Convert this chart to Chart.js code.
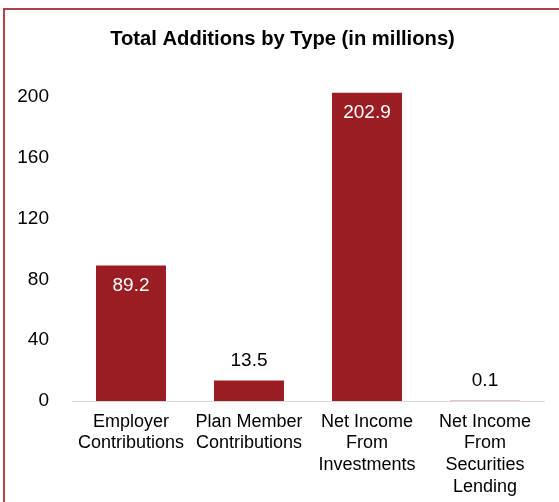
<!DOCTYPE html>
<html>
<head>
<meta charset="utf-8">
<script src="https://cdn.jsdelivr.net/npm/chart.js@4/dist/chart.umd.min.js"></script>
<style>
  html, body { margin:0; padding:0; width:559px; height:502px; overflow:hidden; background:#fff; }
  #frame { position:absolute; left:3px; top:8px; width:700px; height:700px;
           border-left:2px solid #b0434a; border-top:2px solid #b0434a; box-sizing:border-box; }
  #c { position:absolute; left:3px; top:0; }
</style>
</head>
<body>
<div id="frame"></div>
<canvas id="c" width="559" height="502"></canvas>
<script>
const titleText = "Total Additions by Type (in millions)";
const categories = [
  ["Employer", "Contributions"],
  ["Plan Member", "Contributions"],
  ["Net Income", "From", "Investments"],
  ["Net Income", "From", "Securities", "Lending"]
];
const values = [89.2, 13.5, 202.9, 0.1];
const valueLabels = ["89.2", "13.5", "202.9", "0.1"];
const yTicks = [0, 40, 80, 120, 160, 200];

const FONT = "'Liberation Sans', Arial, sans-serif";
const barColor = "#9b1d24";

const titlePlugin = {
  id: 'centeredTitle',
  afterDraw(chart) {
    const ctx = chart.ctx;
    ctx.save();
    ctx.font = "bold 20.2px " + FONT;
    ctx.fillStyle = '#000';
    ctx.textAlign = 'center';
    ctx.textBaseline = 'middle';
    ctx.fillText(titleText, chart.width / 2, 39);
    ctx.restore();
  }
};

const dataLabelPlugin = {
  id: 'dataLabels',
  afterDatasetsDraw(chart) {
    const ctx = chart.ctx;
    const meta = chart.getDatasetMeta(0);
    ctx.save();
    ctx.font = "19px " + FONT;
    ctx.textAlign = 'center';
    ctx.textBaseline = 'middle';
    meta.data.forEach((el, i) => {
      const h = el.base - el.y;
      if (h > 40) {
        ctx.fillStyle = '#ffffff';
        ctx.fillText(valueLabels[i], el.x, el.y + 20);
      } else {
        ctx.fillStyle = '#000000';
        ctx.fillText(valueLabels[i], el.x, el.y - 20);
      }
    });
    ctx.restore();
  }
};

new Chart(document.getElementById('c'), {
  type: 'bar',
  data: {
    labels: categories,
    datasets: [{
      data: values,
      backgroundColor: barColor,
      borderWidth: 0,
      barPercentage: 0.593,
      categoryPercentage: 1.0
    }]
  },
  options: {
    responsive: false,
    animation: false,
    devicePixelRatio: 1,
    layout: { padding: { left: 0, right: 18, top: 82, bottom: 0 } },
    plugins: {
      legend: { display: false },
      tooltip: { enabled: false },
      title: { display: false }
    },
    scales: {
      x: {
        grid: { display: false, drawTicks: false },
        border: { display: true, color: '#d9d9d9', width: 1 },
        ticks: {
          color: '#000',
          font: { family: FONT, size: 18, lineHeight: 1.2 },
          padding: 10,
          maxRotation: 0,
          autoSkip: false
        },
        afterFit(scale) { scale.height = 101; }
      },
      y: {
        min: 0,
        max: 210,
        grid: { display: false, drawTicks: false },
        border: { display: false },
        ticks: {
          stepSize: 40,
          color: '#000',
          font: { family: FONT, size: 19 },
          padding: 23
        },
        afterBuildTicks(scale) {
          scale.ticks = yTicks.map(v => ({ value: v }));
        },
        afterFit(scale) { scale.width = 69; }
      }
    }
  },
  plugins: [dataLabelPlugin, titlePlugin]
});
</script>
</body>
</html>
